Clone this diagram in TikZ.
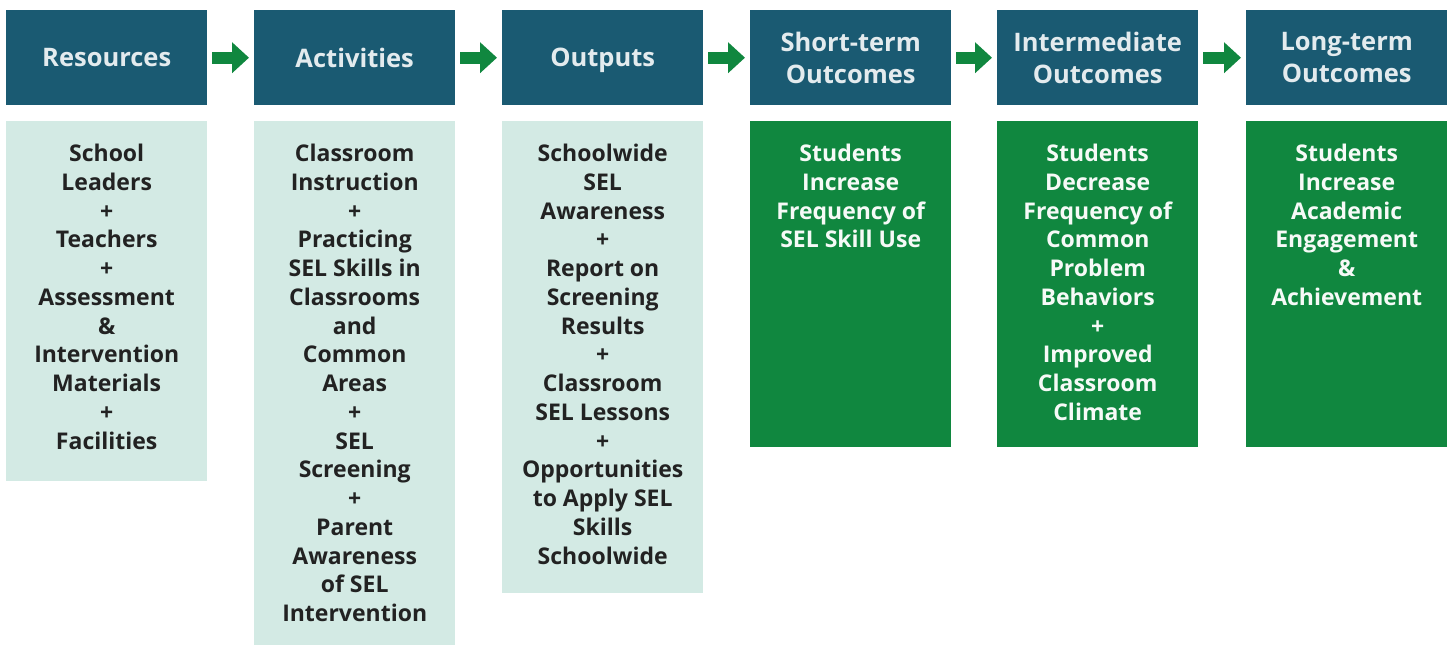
\documentclass[tikz,border=0pt]{standalone}
\usepackage{fontspec}
\setmainfont{Open Sans}
\usetikzlibrary{arrows.meta,positioning}
\definecolor{headblue}{HTML}{1A5A72}
\definecolor{flowgreen}{HTML}{10873F}
\definecolor{paleteal}{HTML}{D3EAE4}
\definecolor{inktext}{HTML}{222222}
\begin{document}
\begin{tikzpicture}[x=1pt,y=-1pt,
  header/.style = {fill=headblue, text=white!88!headblue, minimum width=201pt, minimum height=95pt,
    inner sep=0pt, align=center, font=\bfseries\fontsize{25.5}{32}\selectfont, anchor=north west},
  inputbox/.style = {fill=paleteal, minimum width=201pt, inner sep=0pt, anchor=north west},
  outcomebox/.style = {fill=flowgreen, minimum width=201pt, inner sep=0pt, anchor=north west},
  bodytext/.style = {align=center, inner sep=0pt, anchor=north, text=inktext,
    font=\bfseries\fontsize{23}{28.75}\selectfont},
  outcometext/.style = {bodytext, text=white!96!flowgreen},
  flow/.style = {flowgreen, line width=12pt, shorten <=5pt, shorten >=5pt,
    -{Triangle[length=17pt,width=30pt]}}]
\useasboundingbox (0,0) rectangle (1449,646);
% header row
\node[header] (res) at (6,10) {Resources};
\node[header] (act) at (254,10) {Activities};
\node[header] (out) at (502,10) {\raisebox{0pt}[\height][0pt]{Outputs}};
\node[header] (short) at (750,10) {Short-term\\Outcomes};
\node[header] (inter) at (997,10) {Intermediate\\Outcomes};
\node[header] (long) at (1246,10) {Long-term\\Outcomes};
\draw[flow] (res) -- (act);
\draw[flow] (act) -- (out);
\draw[flow] (out) -- (short);
\draw[flow] (short) -- (inter);
\draw[flow] (inter) -- (long);
% boxes below
\node[inputbox, minimum height=360pt] (resbox) at (6,121) {};
\node[inputbox, minimum height=524pt] (actbox) at (254,121) {};
\node[inputbox, minimum height=472pt] (outbox) at (502,121) {};
\node[outcomebox, minimum height=326pt] (shortbox) at (750,121) {};
\node[outcomebox, minimum height=326pt] (interbox) at (997,121) {};
\node[outcomebox, minimum height=326pt] (longbox) at (1246,121) {};
% texts
\node[bodytext, below=23pt of resbox.north] (restext) {School\\Leaders\\+\\Teachers\\+\\Assessment\\\&\\Intervention\\Materials\\+\\Facilities};
\node[bodytext, below=23pt of actbox.north] (acttext) {Classroom\\Instruction\\+\\Practicing\\SEL Skills in\\Classrooms\\and\\Common\\Areas\\+\\SEL\\Screening\\+\\Parent\\Awareness\\of SEL\\Intervention};
\node[bodytext, below=23pt of outbox.north] (outtext) {Schoolwide\\SEL\\Awareness\\+\\Report on\\Screening\\Results\\+\\Classroom\\SEL Lessons\\+\\Opportunities\\to Apply SEL\\Skills\\Schoolwide};
\node[outcometext, below=23pt of shortbox.north] (shorttext) {Students\\Increase\\Frequency of\\SEL Skill Use};
\node[outcometext, below=23pt of interbox.north] (intertext) {Students\\Decrease\\Frequency of\\Common\\Problem\\Behaviors\\+\\Improved\\Classroom\\Climate};
\node[outcometext, below=23pt of longbox.north] (longtext) {Students\\Increase\\Academic\\Engagement\\\&\\Achievement};
\end{tikzpicture}
\end{document}
